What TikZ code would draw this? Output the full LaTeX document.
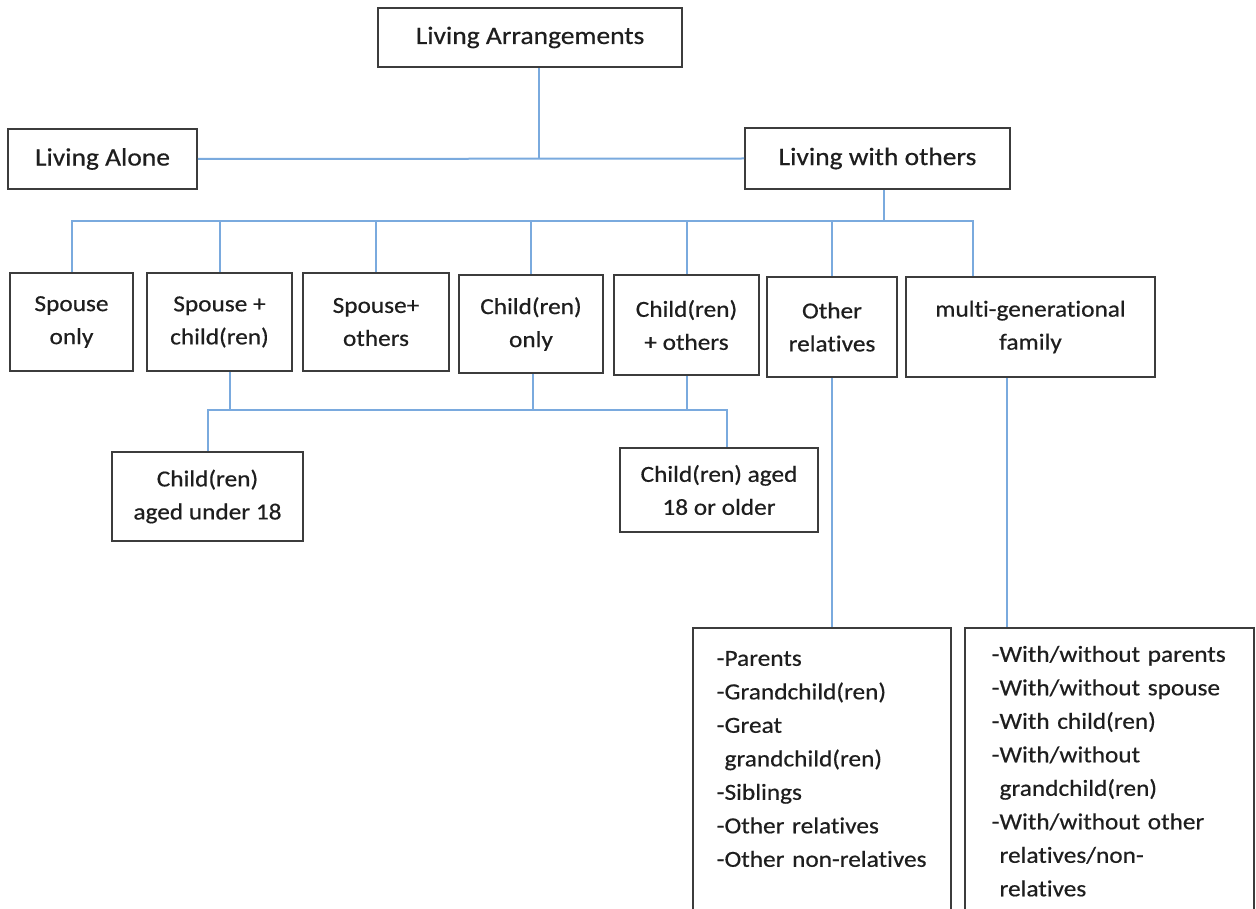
\documentclass[tikz,border=0pt]{standalone}
\usepackage{fontspec}
\setmainfont[FakeStretch=1.1, FakeBold=0.5, Ligatures=CommonOff]{Carlito}
\definecolor{linkblue}{RGB}{122,170,222}
\definecolor{boxgray}{RGB}{60,60,60}
\definecolor{inkgray}{RGB}{30,30,30}
\tikzset{
  box/.style={draw=boxgray, line width=1.6pt, fill=white, align=center,
    inner sep=0pt, text=inkgray, font=\fontsize{23}{33}\selectfont},
  topbox/.style={box, font=\fontsize{25}{33}\selectfont},
  listbox/.style={box, anchor=north west, align=left, inner xsep=24pt,
    inner ysep=0pt, text height=38pt, text depth=320pt,
    font=\fontsize{23}{33.5}\selectfont},
  link/.style={draw=linkblue, line width=2pt},
}

\begin{document}
\begin{tikzpicture}[x=1pt, y=-1pt]
    \useasboundingbox (0,0) rectangle (1256,909);
    \clip (0,0) rectangle (1256,909);
    % Los tres primeros niveles.
    \node[topbox, minimum width=304pt, minimum height=59pt] (arr) at (530,37.5) {Living Arrangements};
    \node[topbox, minimum width=189pt, minimum height=60pt] (alone) at (102.5,159) {Living Alone};
    \node[topbox, minimum width=265pt, minimum height=61pt] (others) at (877.5,158.5) {Living with others};
    \node[box, minimum width=123pt, minimum height=98pt] (sponly) at (71.5,322) {Spouse\\only};
    \node[box, minimum width=145pt, minimum height=98pt] (spchild) at (219.5,322) {Spouse +\\child(ren)};
    \node[box, minimum width=146pt, minimum height=98pt] (spothers) at (376,322) {Spouse+\\others};
    \node[box, minimum width=144pt, minimum height=98pt] (chonly) at (531,324) {Child(ren)\\only};
    \node[box, minimum width=145pt, minimum height=100pt] (chothers) at (686.5,325) {Child(ren)\\+ others};
    \node[box, minimum width=130pt, minimum height=100pt] (otherrel) at (832,327) {Other\\relatives};
    \node[box, minimum width=249pt, minimum height=100pt] (multigen) at (1030.5,327) {multi-generational\\family};
    \node[box, minimum width=191pt, minimum height=89pt] (under18) at (207.5,496.5) {Child(ren)\\aged under 18};
    \node[box, minimum width=198pt, minimum height=84pt] (over18) at (719,490) {Child(ren) aged\\18 or older};
    % Listas de detalle, cortadas por el borde inferior.
    \node[listbox, text width=210pt] (rellist) at (692,627)
        {-Parents\\-Grandchild(ren)\\-Great\\\hphantom{-}grandchild(ren)\\-Siblings\\-Other relatives\\-Other non-relatives};
    \node[listbox, text width=235pt, inner xsep=27pt, text height=34pt] (mglist) at (964,627)
        {-With/without parents\\-With/without spouse\\-With child(ren)\\-With/without\\\hphantom{-}grandchild(ren)\\-With/without other\\\hphantom{-}relatives/non-\\\hphantom{-}relatives};
    % Conectores.
    \draw[link] (alone.east) -- (others.west);
    \draw[link] ([xshift=9pt]arr.south) -- ([xshift=9pt]arr.south |- alone.east);
    \draw[link] ([xshift=6pt]others.south) -- ++(0,31) coordinate (hub);
    \draw[link] (sponly.north) |- (hub);
    \draw[link] ([xshift=-58pt]multigen.north) |- (hub);
    \foreach \n in {spchild, spothers, chonly, chothers, otherrel}
        \draw[link] (\n.north) -- (\n.north |- hub);
    \coordinate (kids) at (0,410);
    \draw[link] (under18.north) |- ([xshift=8pt]over18.north |- kids) -- ([xshift=8pt]over18.north);
    \foreach \n/\s in {spchild/10pt, chonly/2pt, chothers/0pt}
        \draw[link] ([xshift=\s]\n.south) -- ([xshift=\s]\n.south |- kids);
    \draw[link] (otherrel.south) -- (otherrel.south |- rellist.north);
    \draw[link] ([xshift=-24pt]multigen.south) -- ([xshift=-24pt]multigen.south |- mglist.north);
\end{tikzpicture}
\end{document}
